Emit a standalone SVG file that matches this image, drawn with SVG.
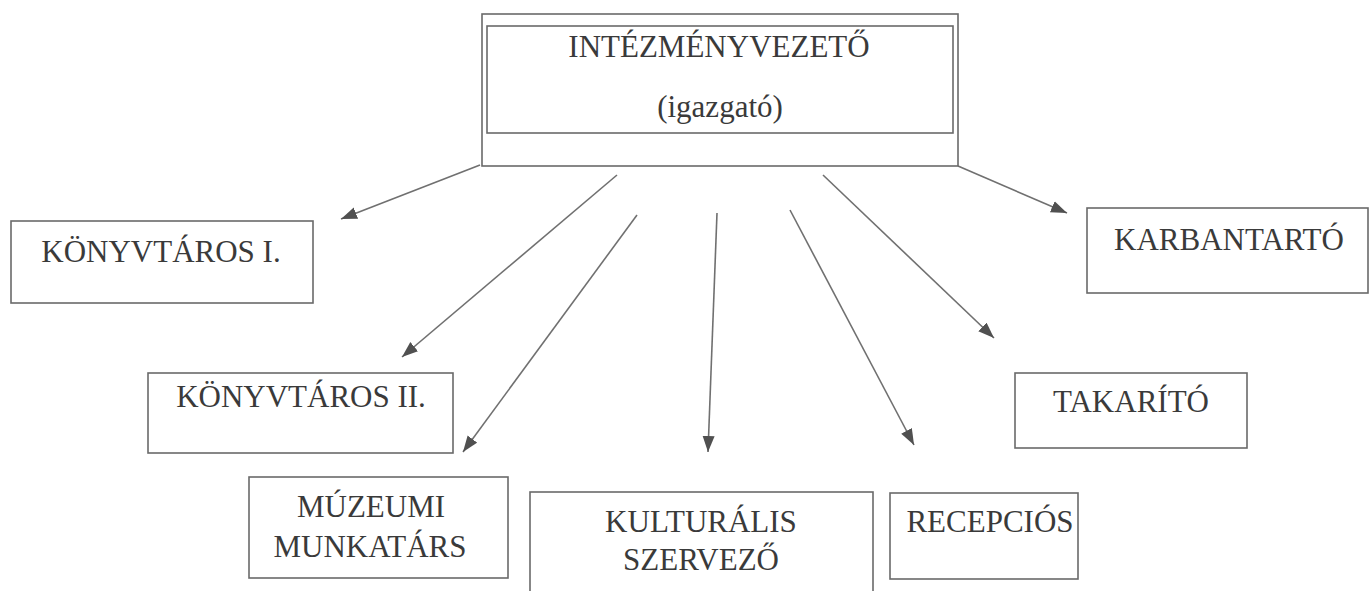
<svg xmlns="http://www.w3.org/2000/svg" width="1369" height="591" viewBox="0 0 1369 591">
<style>
.box{fill:#fff;stroke:#6a6a6a;stroke-width:1.6}
.lbl{font-family:"Liberation Serif","Times New Roman",serif;font-size:31px;fill:#3a3a3a;text-anchor:middle}
.conn{stroke:#707070;stroke-width:1.6;fill:none;marker-end:url(#ah)}
</style>
<defs>
<marker id="ah" markerUnits="userSpaceOnUse" markerWidth="18" markerHeight="14" refX="16" refY="6" orient="auto">
<path d="M0,0 L16,6 L0,12 Z" fill="#505050"/>
</marker>
</defs>
<rect width="1369" height="591" fill="#fff"/>
<g id="connectors">
<line class="conn" x1="480" y1="165" x2="341" y2="219"/>
<line class="conn" x1="617" y1="175" x2="402" y2="357"/>
<line class="conn" x1="637" y1="215" x2="463" y2="452"/>
<line class="conn" x1="717" y1="213" x2="708" y2="452"/>
<line class="conn" x1="790" y1="210" x2="914" y2="445"/>
<line class="conn" x1="823" y1="175" x2="994" y2="338"/>
<line class="conn" x1="958" y1="166" x2="1067" y2="213"/>
</g>
<g id="n-igazgato">
<rect class="box" x="482" y="14" width="476" height="152"/>
<rect class="box" x="487" y="26" width="466" height="107"/>
<text class="lbl" x="719" y="57">INTÉZMÉNYVEZETŐ</text>
<text class="lbl" x="720" y="117">(igazgató)</text>
</g>
<g id="n-konyvtaros1">
<rect class="box" x="11" y="221" width="302" height="82"/>
<text class="lbl" x="161" y="262">KÖNYVTÁROS I.</text>
</g>
<g id="n-konyvtaros2">
<rect class="box" x="148" y="373" width="305" height="80"/>
<text class="lbl" x="301" y="407">KÖNYVTÁROS II.</text>
</g>
<g id="n-muzeumi">
<rect class="box" x="249" y="477" width="259" height="101"/>
<text class="lbl" x="371" y="517">MÚZEUMI</text>
<text class="lbl" x="370" y="557">MUNKATÁRS</text>
</g>
<g id="n-kulturalis">
<rect class="box" x="530" y="492" width="343" height="110"/>
<text class="lbl" x="701" y="532">KULTURÁLIS</text>
<text class="lbl" x="701" y="570">SZERVEZŐ</text>
</g>
<g id="n-recepcios">
<rect class="box" x="890" y="493" width="188" height="86"/>
<text class="lbl" x="990" y="532">RECEPCIÓS</text>
</g>
<g id="n-takarito">
<rect class="box" x="1015" y="373" width="232" height="75"/>
<text class="lbl" x="1131" y="412">TAKARÍTÓ</text>
</g>
<g id="n-karbantarto">
<rect class="box" x="1087" y="208" width="281" height="85"/>
<text class="lbl" x="1229" y="250">KARBANTARTÓ</text>
</g>
</svg>
